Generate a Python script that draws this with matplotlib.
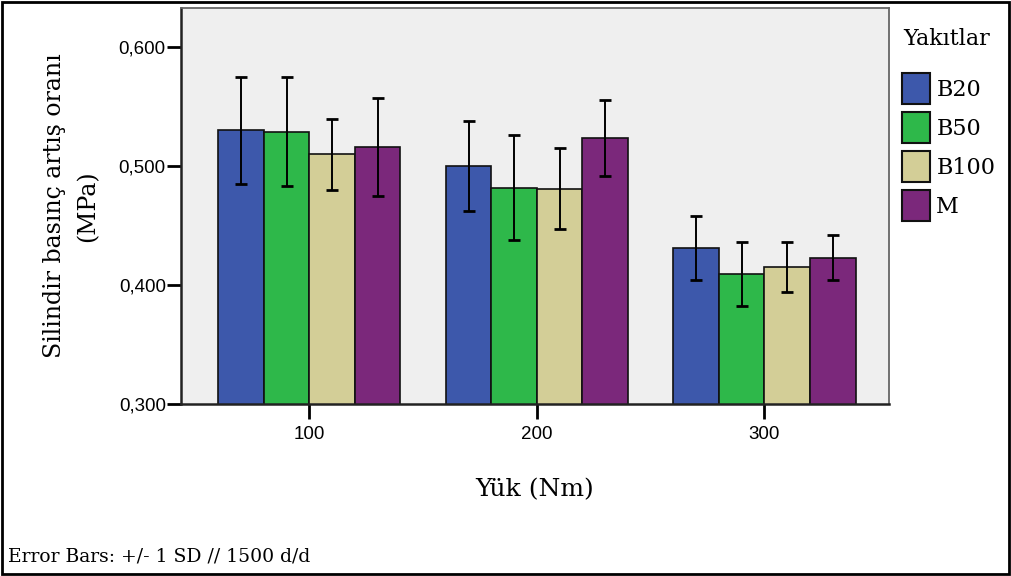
import matplotlib.pyplot as plt
import numpy as np
from matplotlib.patches import Rectangle
from matplotlib.ticker import FuncFormatter

loads = ["100", "200", "300"]
fuels = ["B20", "B50", "B100", "M"]
means = {
    "B20": [0.530, 0.500, 0.431],
    "B50": [0.529, 0.482, 0.409],
    "B100": [0.510, 0.481, 0.415],
    "M": [0.516, 0.524, 0.423],
}
sds = {
    "B20": [0.045, 0.038, 0.027],
    "B50": [0.046, 0.044, 0.027],
    "B100": [0.030, 0.034, 0.021],
    "M": [0.041, 0.032, 0.019],
}
colors = {"B20": "#3d58ab", "B50": "#2eb84a", "B100": "#d3ce97", "M": "#7b287b"}

serif = ["DejaVu Serif"]
sans = ["Liberation Sans", "DejaVu Sans"]

fig = plt.figure(figsize=(10.12, 5.76), dpi=100)
ax = fig.add_axes([0.179, 0.299, 0.699, 0.687])
ax.set_facecolor("#efefef")

x = np.arange(len(loads))
w = 0.2
for i, f in enumerate(fuels):
    pos = x + (i - 1.5) * w
    ax.bar(pos, means[f], width=w, color=colors[f], edgecolor="#111111", linewidth=1.2,
           label=f, zorder=2)
    ax.errorbar(pos, means[f], yerr=sds[f], fmt="none", ecolor="black",
                elinewidth=1.4, capsize=4.3, capthick=2, zorder=3)

ax.set_xlim(-0.563, 2.545)
ax.set_ylim(0.3, 0.633)
ax.set_yticks([0.3, 0.4, 0.5, 0.6])
ax.yaxis.set_major_formatter(FuncFormatter(lambda v, p: f"{v:.3f}".replace(".", ",")))
ax.set_xticks(x)
ax.set_xticklabels(loads)
for lab in ax.get_xticklabels() + ax.get_yticklabels():
    lab.set_family(sans)
    lab.set_fontsize(13.5)
ax.tick_params(axis="y", length=10, width=2, direction="out", pad=1)
ax.tick_params(axis="x", length=11, width=2, direction="out", pad=5)
for s in ax.spines.values():
    s.set_color("#666666")
    s.set_linewidth(1.3)
ax.spines["left"].set_color("#222222")
ax.spines["bottom"].set_color("#222222")
ax.spines["left"].set_linewidth(1.8)
ax.spines["bottom"].set_linewidth(1.8)

ax.set_xlabel("Yük (Nm)", family=serif, fontsize=18, labelpad=25)
ax.set_ylabel("Silindir basınç artış oranı\n(MPa)", family=serif, fontsize=17,
              labelpad=14, linespacing=1.6)

# legend entries, title placed separately to get the wider gap above the swatches
leg = ax.legend(loc="upper left", bbox_to_anchor=(0.891, 0.873),
                bbox_transform=fig.transFigure, frameon=False,
                prop={"family": serif, "size": 16},
                handlelength=1.26, handleheight=1.77, handletextpad=0.3,
                labelspacing=0.36, borderaxespad=0, borderpad=0)
for h in leg.legend_handles:
    h.set_linewidth(1.5)
fig.text(0.935, 0.932, "Yakıtlar", family=serif, fontsize=16, ha="center", va="center")

fig.text(0.008, 0.033, "Error Bars: +/- 1 SD // 1500 d/d", family=serif,
         fontsize=13.5, ha="left", va="center")

fig.patches.append(Rectangle((0.002, 0.004), 0.995, 0.992, transform=fig.transFigure,
                             fill=False, edgecolor="black", linewidth=2))

fig.savefig("out.png", dpi=100)
